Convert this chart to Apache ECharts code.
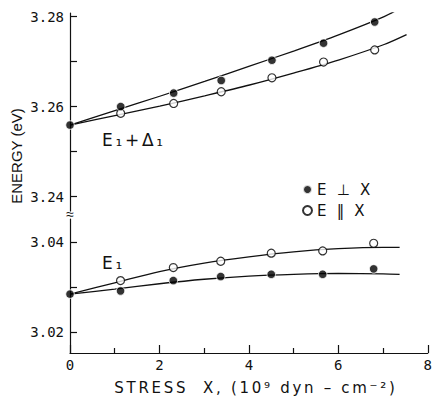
<!DOCTYPE html>
<html>
<head>
<meta charset="utf-8">
<script src="https://cdn.jsdelivr.net/npm/echarts@6/dist/echarts.min.js"></script>
<style>
  html, body { margin: 0; background: #fff; }
  #main { width: 435px; height: 400px; }
  /* old lettering is spaced wide */
  #main text { letter-spacing: 2.7px; }
  #main text[style*="Mono"], #main text[style*="Liberation"] { letter-spacing: 0; }
</style>
</head>
<body>
<div id="main"></div>
<script>
// measured points (stress in 10^9 dyn/cm^2, energy in eV)
var stress = [0, 1.13, 2.31, 3.37, 4.5, 5.65, 6.79];
var upperPerp = [3.2559, 3.2600, 3.2630, 3.2658, 3.2703, 3.2741, 3.2788];
var upperPara = [null, 3.2585, 3.2607, 3.2633, 3.2664, 3.2699, 3.2726];
var lowerPerp = [3.0285, 3.0292, 3.0315, 3.0324, 3.0329, 3.0329, 3.0341];
var lowerPara = [null, 3.0315, 3.0344, 3.0358, 3.0376, 3.0381, 3.0398];

// fitted curves
var upperPerpCurveX = [0, 1, 2, 3, 4, 5, 6, 7, 7.4];
var upperPerpCurve = [3.2559, 3.2591, 3.2623, 3.2656, 3.2690, 3.2724, 3.2760, 3.2800, 3.2821];
var upperParaCurveX = [0, 1, 2, 3, 4, 5, 6, 7, 7.5];
var upperParaCurve = [3.2559, 3.2580, 3.2601, 3.2624, 3.2648, 3.2675, 3.2704, 3.2738, 3.2760];
var lowerCurveX = [0, 1, 2, 3, 4, 5, 6, 7, 7.37];
var lowerPerpCurve = [3.0285, 3.0296, 3.0308, 3.0318, 3.0325, 3.0329, 3.0331, 3.0330, 3.0329];
var lowerParaCurve = [3.0285, 3.0310, 3.0335, 3.0354, 3.0368, 3.0379, 3.0386, 3.0389, 3.0389];

var upperLabels = [3.24, 3.26, 3.28];
var upperTicks = [3.24, 3.25, 3.26, 3.27, 3.28];
var lowerLabels = [3.02, 3.04];
var lowerTicks = [3.02, 3.03, 3.04];

var perpName = "E ⊥ X";
var paraName = "E ‖ X";

function zip(xs, ys) {
  var out = [];
  for (let i = 0; i < xs.length; i++) {
    if (ys[i] != null) out.push([xs[i], ys[i]]);
  }
  return out;
}

var font = "DejaVu Sans";
var mono = "DejaVu Sans Mono";
var ink = "#111";

function yAxisOf(gridIndex, min, max, labels, ticks) {
  return {
    type: "value",
    gridIndex: gridIndex,
    min: min,
    max: max,
    axisLine: { show: true, lineStyle: { color: ink, width: 1.2 } },
    axisTick: { show: true, inside: true, length: 7, customValues: ticks, lineStyle: { color: ink, width: 1.2 } },
    axisLabel: {
      customValues: labels,
      color: ink,
      fontFamily: mono,
      fontSize: 14,
      margin: 6,
      formatter: function (v) { return v.toFixed(2); }
    },
    splitLine: { show: false }
  };
}

function curve(xi, yi, xs, ys) {
  return {
    type: "line",
    xAxisIndex: xi,
    yAxisIndex: yi,
    data: zip(xs, ys),
    showSymbol: false,
    smooth: 0.3,
    silent: true,
    lineStyle: { color: ink, width: 1.3 },
    z: 2
  };
}

function dots(name, xi, yi, ys, filled) {
  return {
    type: "scatter",
    name: name,
    xAxisIndex: xi,
    yAxisIndex: yi,
    data: zip(stress, ys),
    symbol: "circle",
    symbolSize: filled ? 8.5 : 8,
    itemStyle: filled
      ? { color: "#000", borderColor: "#fff", borderWidth: 1 }
      : { color: "#fff", borderColor: "#000", borderWidth: 1.2 },
    z: 3
  };
}

var myChart = echarts.init(document.getElementById("main"), null, { renderer: "svg" });

var option = {
  animation: false,
  backgroundColor: "#fff",
  grid: [
    { left: 70, right: 6, top: 13, height: 198 },
    { left: 70, right: 6, top: 219, bottom: 47 }
  ],
  xAxis: [
    { type: "value", gridIndex: 0, min: 0, max: 8, show: false },
    {
      type: "value",
      gridIndex: 1,
      min: 0,
      max: 8,
      interval: 2,
      axisLine: { show: true, lineStyle: { color: ink, width: 1.2 } },
      axisTick: { show: true, inside: true, length: 8, lineStyle: { color: ink, width: 1.2 } },
      minorTick: { show: true, splitNumber: 2, length: 5, lineStyle: { color: ink, width: 1.2 } },
      axisLabel: { color: ink, fontFamily: mono, fontSize: 14, margin: 5 },
      splitLine: { show: false },
      name: "STRESS  X, (10⁹ dyn – cm⁻²)",
      nameLocation: "middle",
      nameGap: 27,
      nameTextStyle: {
        color: ink,
        fontFamily: font,
        fontSize: 15,
        padding: [0, 0, 0, 14]
      }
    }
  ],
  yAxis: [
    yAxisOf(0, 3.2368, 3.2808, upperLabels, upperTicks),
    yAxisOf(1, 3.0154, 3.0452, lowerLabels, lowerTicks)
  ],
  legend: {
    data: [perpName, paraName],
    orient: "vertical",
    left: 297,
    top: 177,
    itemWidth: 9,
    itemHeight: 9,
    itemGap: 6,
    icon: "circle",
    selectedMode: false,
    textStyle: { color: ink, fontFamily: font, fontSize: 15 }
  },
  graphic: [
    {
      type: "text",
      x: 16,
      y: 156,
      rotation: Math.PI / 2,
      style: { text: "ENERGY (eV)", fill: ink, font: "15px Liberation Sans", align: "center", verticalAlign: "middle" }
    },
    {
      type: "text",
      x: 102,
      y: 140,
      style: { text: "E₁+Δ₁", fill: ink, font: "17px DejaVu Sans", align: "left", verticalAlign: "middle" }
    },
    {
      type: "text",
      x: 102,
      y: 263,
      style: { text: "E₁", fill: ink, font: "17px DejaVu Sans", align: "left", verticalAlign: "middle" }
    },
    {
      type: "text",
      x: 70,
      y: 214,
      style: { text: "≈", fill: ink, font: "14px Liberation Sans", align: "center", verticalAlign: "middle" }
    }
  ],
  series: [
    curve(0, 0, upperPerpCurveX, upperPerpCurve),
    curve(0, 0, upperParaCurveX, upperParaCurve),
    curve(1, 1, lowerCurveX, lowerPerpCurve),
    curve(1, 1, lowerCurveX, lowerParaCurve),
    dots(paraName, 0, 0, upperPara, false),
    dots(perpName, 0, 0, upperPerp, true),
    dots(paraName, 1, 1, lowerPara, false),
    dots(perpName, 1, 1, lowerPerp, true)
  ]
};

myChart.setOption(option);
</script>
</body>
</html>
